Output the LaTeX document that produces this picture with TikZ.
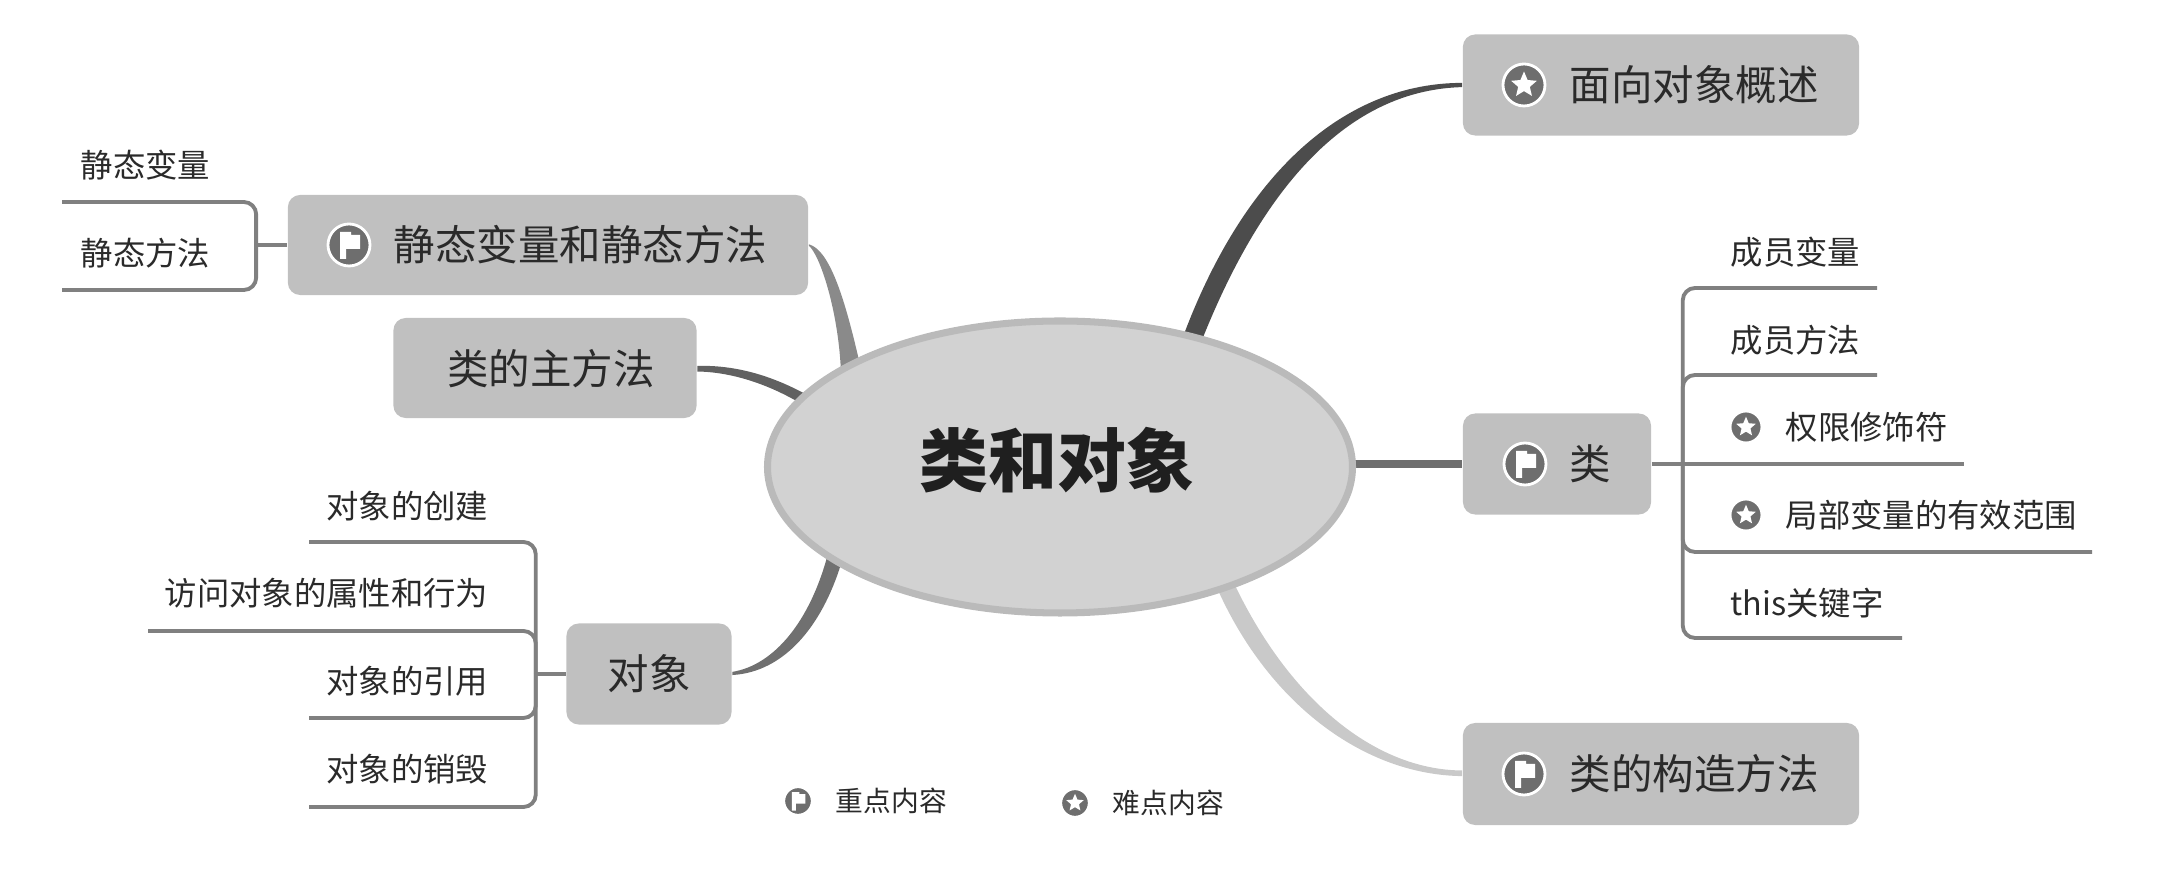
\documentclass[tikz,border=0pt]{standalone}
\usepackage{fontspec}
\setmainfont{Noto Sans CJK SC}
\usetikzlibrary{positioning,shapes.geometric}
\definecolor{boxgray}{HTML}{C0C0C0}
\definecolor{rootgray}{HTML}{D2D2D2}
\definecolor{rimgray}{HTML}{BABABA}
\definecolor{linegray}{HTML}{808080}
\definecolor{icongray}{HTML}{6E6E6E}
\definecolor{inkgray}{HTML}{2A2A2A}
\tikzset{
  topicbox/.style={rectangle,fill=boxgray,rounded corners=3.5pt,inner sep=0},
  topictext/.style={font=\fontsize{11.8}{14}\selectfont,text=inkgray,inner sep=0},
  subtext/.style={font=\fontsize{9.2}{11}\selectfont,text=inkgray,inner sep=0},
  legendtext/.style={font=\fontsize{7.9}{10}\selectfont,text=inkgray,inner sep=0},
  subline/.style={draw=linegray,line width=1.1pt,rounded corners=3.5pt},
  flagicon/.pic={
    \draw[white,fill=icongray,line width=0.8pt] (0,0) circle (21);
    \fill[white] (-9,14) -- (-9,-13) -- (2,-13) -- (2,-10) -- (11,-10) -- (11,4) -- (-3,4) -- (-3,14) -- cycle;
  },
  staricon/.pic={
    \draw[white,fill=icongray,line width=0.8pt] (0,0) circle (21);
    \node (-s) [star,star points=5,star point ratio=2.2,fill=white,inner sep=0,minimum size=0.27cm,transform shape] at (0,0) {};
  }
}
\begin{document}
\begin{tikzpicture}[x=0.01cm,y=-0.01cm]
\useasboundingbox (0,0) rectangle (2162,883);
% topics
\node (root) [ellipse,fill=rootgray,draw=none,minimum width=5.85cm,minimum height=2.92cm,inner sep=0] at (1060,467) {};
\node (oop) [topicbox,minimum width=3.96cm,minimum height=1.01cm] at (1661,85) {};
\node (cls) [topicbox,minimum width=1.88cm,minimum height=1.01cm] at (1557,464) {};
\node (ctor) [topicbox,minimum width=3.96cm,minimum height=1.02cm] at (1661,774) {};
\node (stat) [topicbox,minimum width=5.2cm,minimum height=1.00cm] at (548,245) {};
\node (mainm) [topicbox,minimum width=3.03cm,minimum height=1.00cm] at (545,368) {};
\node (obj) [topicbox,minimum width=1.65cm,minimum height=1.01cm] at (649,674) {};
% branches, they go in under the ellipse
\fill[black!70] ([yshift=0.6pt]oop.west) .. controls (1350,83) and (1248,165) .. (root.47) -- (root.42) .. controls (1268,175) and (1355,90) .. ([yshift=-0.6pt]oop.west) -- cycle;
\draw[icongray,line width=2.3pt] (root.east |- cls.west) -- (cls.west);
\fill[black!21] ([yshift=1pt]ctor.west) .. controls (1375,770) and (1290,700) .. (root.326) -- (root.322) .. controls (1270,705) and (1365,775) .. ([yshift=-0.6pt]ctor.west) -- cycle;
\fill[black!46] ([yshift=0.2pt]stat.east) .. controls (830,250) and (845,300) .. (root.152.4) -- (root.156) .. controls (838,310) and (820,255) .. ([yshift=-0.2pt]stat.east) -- cycle;
\fill[black!62] ([yshift=0.6pt]mainm.east) .. controls (735,365) and (770,375) .. (root.164) -- (root.166.2) .. controls (765,383) and (730,372) .. ([yshift=-1pt]mainm.east) -- cycle;
\fill[black!56] ([yshift=0.6pt]obj.east) .. controls (775,665) and (810,620) .. (root.201) -- (root.204.3) .. controls (822,625) and (785,672) .. ([yshift=-0.3pt]obj.east) -- cycle;
\draw[rimgray,line width=2pt] (root.center) ellipse (292.5 and 146);
% labels of the topics
\node (rootlbl) [font=\fontsize{19.6}{22}\selectfont\bfseries,text=black!88,yshift=1.6pt] at (1057,466) {类和对象};
\pic (oopicon) at (1524,85) {staricon};
\node (ooplbl) [topictext,anchor=west] at (1569,85) {面向对象概述};
\pic (clsicon) at (1525,464) {flagicon};
\node (clslbl) [topictext,anchor=west] at (1569,464) {类};
\pic (ctoricon) at (1524,774) {flagicon};
\node (ctorlbl) [topictext,anchor=west] at (1569,774) {类的构造方法};
\pic (staticon) at (349,245) {flagicon};
\node (statlbl) [topictext,anchor=west] at (393,245) {静态变量和静态方法};
\node (mainlbl) [topictext] at (551,369) {类的主方法};
\node (objlbl) [topictext] at (obj) {对象};
% class
\node (c1) [subtext,anchor=west] at (1730,252) {成员变量};
\node (c2) [subtext,anchor=west] at (1730,340) {成员方法};
\pic (c3icon) [scale=0.76] at (1746,427) {staricon};
\node (c3) [subtext,anchor=west] at (1785,427) {权限修饰符};
\pic (c4icon) [scale=0.76] at (1746,515) {staricon};
\node (c4) [subtext,anchor=west] at (1785,515) {局部变量的有效范围};
\node (c5) [subtext,anchor=west] at (1730,603) {this关键字};
\coordinate (c1end) at (1877,288);
\coordinate (c2end) at (1877,375);
\coordinate (c3end) at (1964,464);
\coordinate (c4end) at (2092,552);
\coordinate (c5end) at (1902,638);
\path (cls.east) -- ++(31,0) coordinate (cspine);
\draw[subline] (cls.east) -- (c3end);
\draw[subline] (cspine) |- (c1end);
\draw[subline] (cspine) |- (c2end);
\draw[subline] (cspine) |- (c4end);
\draw[subline] (cspine) |- (c5end);
% object
\node (o1) [subtext,anchor=east] at (489,506) {对象的创建};
\node (o2) [subtext,anchor=east] at (489,593) {访问对象的属性和行为};
\node (o3) [subtext,anchor=east] at (489,681) {对象的引用};
\node (o4) [subtext,anchor=east] at (489,769) {对象的销毁};
\coordinate (o1end) at (309,542);
\coordinate (o2end) at (148,631);
\coordinate (o3end) at (309,718);
\coordinate (o4end) at (309,807);
\path (obj.west) -- ++(-30,0) coordinate (ospine);
\draw[subline] (obj.west) -- (ospine);
\draw[subline] (ospine) |- (o1end);
\draw[subline] (ospine) |- (o2end);
\draw[subline] (ospine) |- (o3end);
\draw[subline] (ospine) |- (o4end);
% static
\node (s1) [subtext,anchor=west] at (80,165) {静态变量};
\node (s2) [subtext,anchor=west] at (80,253) {静态方法};
\coordinate (s1end) at (62,202);
\coordinate (s2end) at (62,290);
\path (stat.west) -- ++(-31,0) coordinate (sspine);
\draw[subline] (stat.west) -- (sspine);
\draw[subline] (sspine) |- (s1end);
\draw[subline] (sspine) |- (s2end);
% legend
\pic (keyicon) [scale=0.68] at (798,801) {flagicon};
\node (keylbl) [legendtext,anchor=west] at (835,801) {重点内容};
\pic (hardicon) [scale=0.68] at (1075,803) {staricon};
\node (hardlbl) [legendtext,anchor=west] at (1112,803) {难点内容};
\end{tikzpicture}
\end{document}
